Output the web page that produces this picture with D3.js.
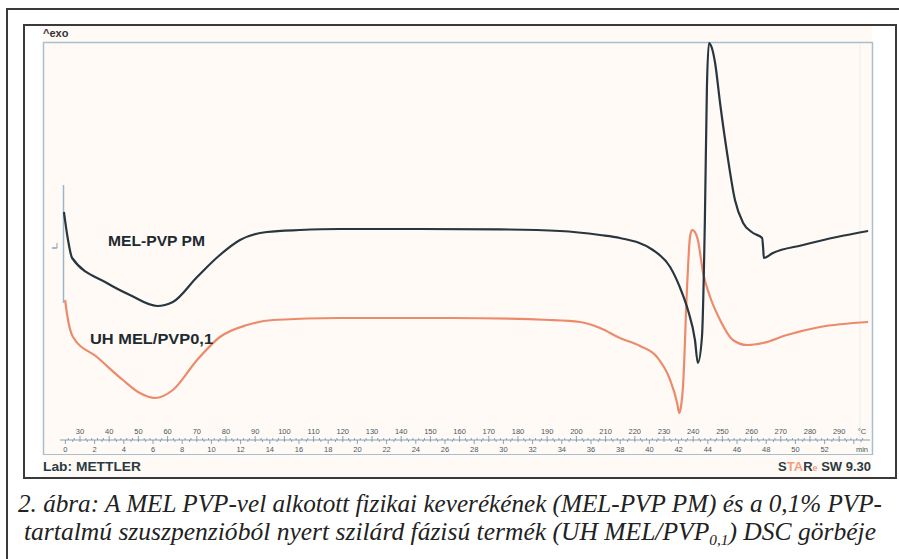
<!DOCTYPE html>
<html>
<head>
<meta charset="utf-8">
<script src="https://cdn.jsdelivr.net/npm/d3@7"></script>
<style>
  body { margin: 0; background: #fff; }
  svg { display: block; }
  .cap { font-family: "Liberation Serif", "Times New Roman", serif; font-style: italic; }
</style>
</head>
<body>
<svg id="dsc" width="899" height="559"></svg>
<script>
// temperature (°C) and heat flow (arbitrary units, exo up)
const pmTemp = [24.5, 25.9, 27.3, 39.2, 47.1, 56.4, 61.8, 70.1, 77.9, 84.8, 94.0, 105.3, 119, 146.4, 173.8, 194.4, 208.1, 214.9, 226.2, 232.1, 236.2, 238.2, 240.6, 241.6, 243, 244, 244.7, 245.4, 246.4, 247.5, 249.2, 251.6, 254.3, 257.1, 260.5, 263.6, 264, 264.2, 267.3, 277.6, 289.2, 299.9];
const pmFlow = [57.75, 50.75, 46.25, 40, 37, 34.25, 35.25, 41.5, 47, 50.75, 52.75, 53.25, 53.5, 53.5, 53.4, 53, 52, 51.25, 48.25, 44, 37.5, 33.25, 25.75, 20, 26.5, 55.75, 89, 100, 98.75, 95, 85, 72.5, 60.75, 55, 52.5, 51.25, 48.25, 46.25, 47.5, 49.5, 51.5, 53];

const uhTemp = [24.9, 25.5, 27.6, 35.8, 44.7, 50.5, 55.7, 61.8, 70.1, 77.9, 87.2, 96.1, 119, 156.7, 191, 201.2, 208.1, 214.9, 221.8, 227.6, 232.1, 234.5, 235.2, 235.9, 236.5, 237.9, 238.9, 239.6, 240.3, 241.6, 243.4, 245.8, 249.2, 253.6, 258.4, 263.9, 272.1, 283.4, 299.9];
const uhFlow = [35.75, 32.5, 26.5, 21.5, 15.75, 12.5, 11.25, 13.25, 20.75, 26.5, 29.5, 30.75, 31.25, 31.25, 30.75, 30.25, 28.75, 26.25, 24.25, 21.5, 15.75, 10, 7.5, 9.5, 14, 39, 51.5, 53.25, 53, 50.75, 42.5, 36.5, 30.75, 25.75, 24.5, 25, 27, 29, 30.25];

const tempTicks = d3.range(30, 291, 10);
const minTicks = d3.range(0, 53, 2);
const seriesNames = ["MEL-PVP PM", "UH MEL/PVP0,1"];
const captionLine1 = "2. ábra: A MEL PVP-vel alkotott fizikai keverékének (MEL-PVP PM) és a 0,1% PVP-";
const captionLine2a = "tartalmú szuszpenzióból nyert szilárd fázisú termék (UH MEL/PVP";
const captionLine2sub = "0,1";
const captionLine2b = ") DSC görbéje";

const svg = d3.select("#dsc");

const x = d3.scaleLinear().domain([30, 290]).range([80, 839.2]);
const xMin = d3.scaleLinear().domain([0, 52]).range([x(25), x(285)]);
const y = d3.scaleLinear().domain([0, 100]).range([443, 43]);

const sans = "Liberation Sans, Arial, sans-serif";

// frames
svg.append("rect").attr("x", 7).attr("y", 9).attr("width", 905).attr("height", 570)
    .attr("fill", "#fff").attr("stroke", "#3a3a3a").attr("stroke-width", 2);
svg.append("rect").attr("x", 24).attr("y", 25).attr("width", 872).attr("height", 453)
    .attr("fill", "#fff").attr("stroke", "#3a3a3a").attr("stroke-width", 2);
svg.append("rect").attr("x", 43).attr("y", 26).attr("width", 829).attr("height", 451)
    .attr("fill", "#fffaf6");

// plot box
const lineCol = "#a9bfcc";
svg.append("path").attr("d", "M43.5,455 V42.5 H872.5 V455")
    .attr("fill", "none").attr("stroke", lineCol).attr("stroke-width", 1.5);
svg.append("line").attr("x1", 43).attr("x2", 872).attr("y1", 454.5).attr("y2", 454.5)
    .attr("stroke", lineCol).attr("stroke-width", 1.2);
svg.append("line").attr("x1", 860).attr("x2", 860).attr("y1", 43).attr("y2", 454)
    .attr("stroke", "#e8eef0").attr("stroke-width", 1);

svg.append("text").attr("x", 43).attr("y", 37).text("^exo")
    .attr("font-family", sans).attr("font-size", 11)
    .attr("font-weight", "bold").attr("fill", "#333");

// axis: temperature above, minutes below
const axisY = 440;
const ax = svg.append("g").attr("class", "axis");
ax.append("line").attr("x1", 60).attr("x2", 870).attr("y1", axisY).attr("y2", axisY)
    .attr("stroke", "#7fa3bb").attr("stroke-width", 1.2);
ax.selectAll(".tminor").data(d3.range(26, 300, 2)).join("line")
    .attr("x1", d => x(d)).attr("x2", d => x(d))
    .attr("y1", axisY).attr("y2", d => d % 10 === 0 ? axisY - 4 : axisY - 2)
    .attr("stroke", "#6d8ea5").attr("stroke-width", 0.8);
ax.selectAll(".mminor").data(d3.range(0, 55, 0.5)).join("line")
    .attr("x1", d => xMin(d)).attr("x2", d => xMin(d))
    .attr("y1", axisY).attr("y2", d => d % 2 === 0 ? axisY + 4 : axisY + 2)
    .attr("stroke", "#6d8ea5").attr("stroke-width", 0.8);
ax.selectAll(".tlab").data(tempTicks).join("text")
    .attr("x", d => x(d)).attr("y", axisY - 6)
    .attr("text-anchor", "middle").text(d => d);
ax.append("text").attr("x", 862).attr("y", axisY - 6).attr("text-anchor", "middle").text("°C");
ax.selectAll(".mlab").data(minTicks).join("text")
    .attr("x", d => xMin(d)).attr("y", axisY + 12)
    .attr("text-anchor", "middle").text(d => d);
ax.append("text").attr("x", 862).attr("y", axisY + 12).attr("text-anchor", "middle").text("min");
ax.selectAll("text").attr("font-family", sans)
    .attr("font-size", 7.5).attr("fill", "#4a5860");

// start marker
svg.append("line").attr("x1", 63.5).attr("x2", 63.5).attr("y1", 185).attr("y2", 303)
    .attr("stroke", "#9cb6c8").attr("stroke-width", 1.5);
svg.append("line").attr("x1", 52).attr("x2", 57).attr("y1", 248).attr("y2", 248)
    .attr("stroke", "#8aa4b8").attr("stroke-width", 1.5);
svg.append("line").attr("x1", 57).attr("x2", 57).attr("y1", 243).attr("y2", 248)
    .attr("stroke", "#8aa4b8").attr("stroke-width", 1);

// curves
const line = d3.line().x(d => x(d[0])).y(d => y(d[1])).curve(d3.curveMonotoneX);
svg.append("path").datum(d3.zip(uhTemp, uhFlow)).attr("d", line)
    .attr("fill", "none").attr("stroke", "#ec8b6c").attr("stroke-width", 2.2);
svg.append("path").datum(d3.zip(pmTemp, pmFlow)).attr("d", line)
    .attr("fill", "none").attr("stroke", "#27363f").attr("stroke-width", 2.2);

// series labels
svg.selectAll(".slab").data(seriesNames).join("text")
    .attr("class", "slab")
    .attr("x", (d, i) => i === 0 ? 108 : 90)
    .attr("y", (d, i) => i === 0 ? 246 : 344)
    .attr("textLength", (d, i) => i === 0 ? 97 : 123)
    .attr("lengthAdjust", "spacingAndGlyphs")
    .text(d => d)
    .attr("font-family", sans).attr("font-size", 15)
    .attr("font-weight", "bold").attr("fill", "#1e2a30");

// footer
svg.append("text").attr("x", 43).attr("y", 471).text("Lab: METTLER")
    .attr("textLength", 98).attr("lengthAdjust", "spacingAndGlyphs")
    .attr("font-family", sans).attr("font-size", 13)
    .attr("font-weight", "bold").attr("fill", "#2b3a42");
const star = svg.append("text").attr("x", 871).attr("y", 471).attr("text-anchor", "end")
    .attr("font-family", sans).attr("font-size", 13)
    .attr("font-weight", "bold").attr("fill", "#2b3a42");
star.append("tspan").text("S");
star.append("tspan").attr("fill", "#f0a080").text("TA");
star.append("tspan").text("R");
star.append("tspan").attr("fill", "#f0a080").attr("font-size", 9).text("e");
star.append("tspan").text(" SW 9.30");

// caption
const cap = svg.append("g").attr("class", "cap").attr("font-size", 25).attr("fill", "#222");
cap.append("text").attr("x", 18).attr("y", 512).attr("textLength", 864)
    .attr("lengthAdjust", "spacingAndGlyphs").text(captionLine1);
const c2 = cap.append("text").attr("x", 24).attr("y", 540).attr("textLength", 852)
    .attr("lengthAdjust", "spacingAndGlyphs");
c2.append("tspan").text(captionLine2a);
c2.append("tspan").attr("font-size", 15).attr("dy", 5).text(captionLine2sub);
c2.append("tspan").attr("dy", -5).text(captionLine2b);
</script>
</body>
</html>
